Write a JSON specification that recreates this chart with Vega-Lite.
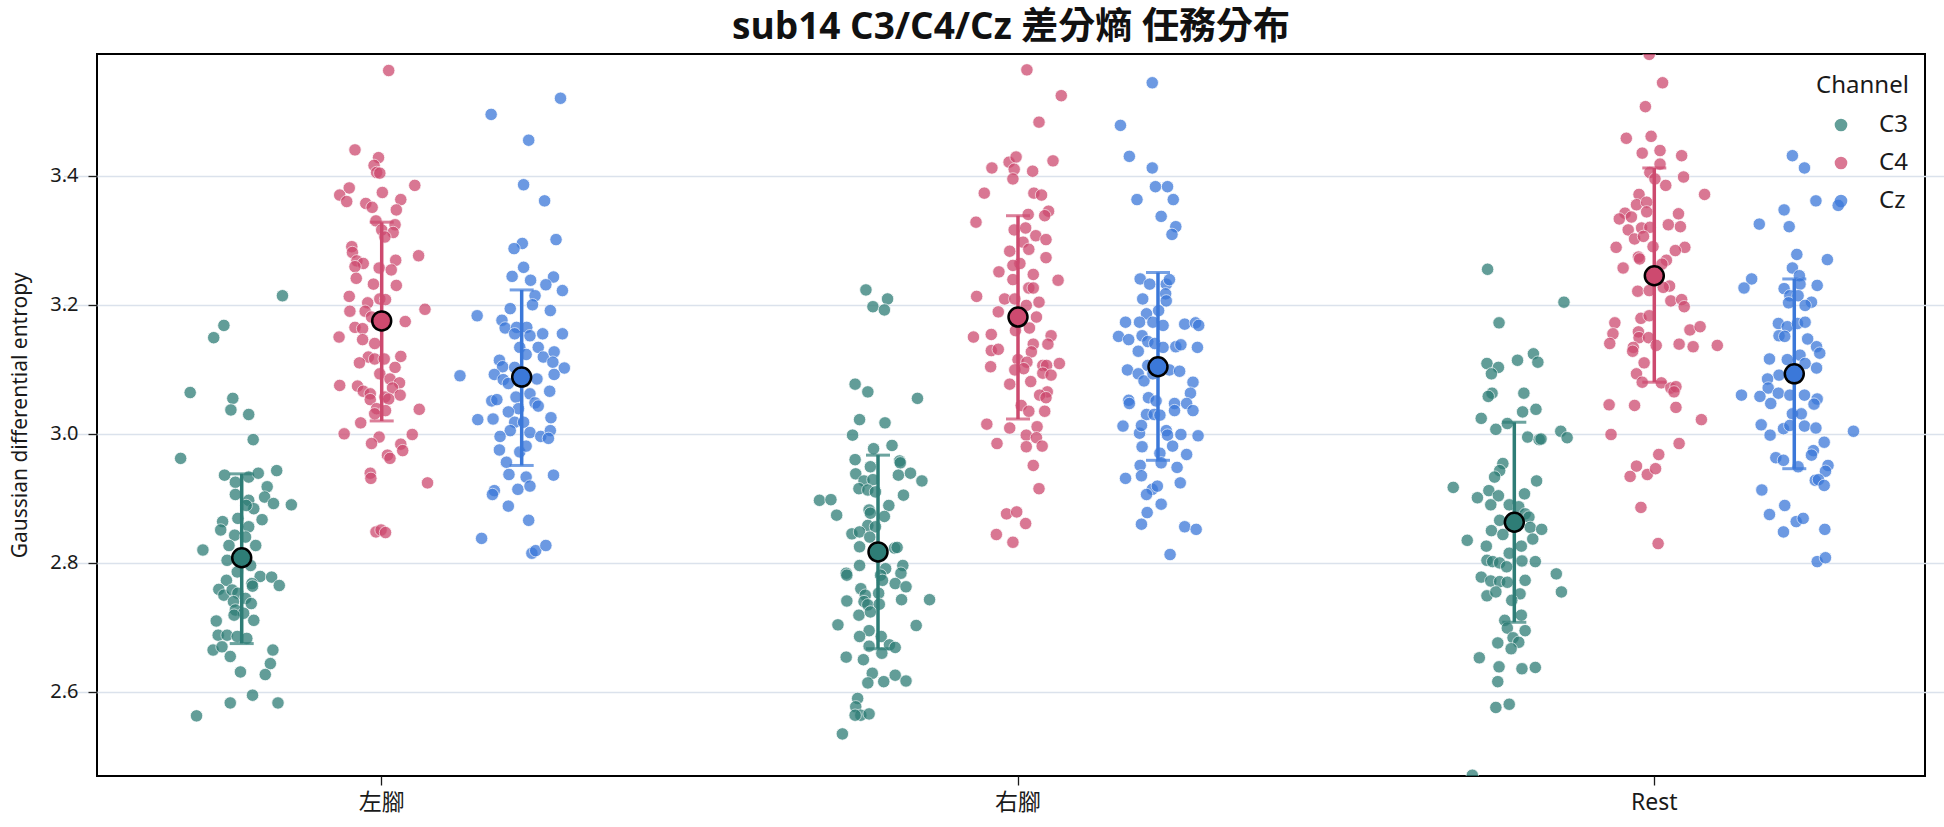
{
"$schema": "https://vega.github.io/schema/vega-lite/v6.json",
"width": 1828, "height": 722,
"autosize": {"type": "none"},
"padding": {"left": 97, "top": 54, "right": 19, "bottom": 51},
"background": "white",
"config": {
  "font": "Noto Sans, Noto Sans CJK TC",
  "view": {"stroke": "black", "strokeWidth": 2},
  "axis": {"labelColor": "#1a1a1a", "tickColor": "#1a1a1a", "tickWidth": 1.3, "titleColor": "#1a1a1a"}
},
"title": {"text": "sub14 C3/C4/Cz 差分熵 任務分布", "font": "Open Sans, Noto Sans CJK TC", "fontSize": 37, "fontWeight": "bold", "color": "#111", "anchor": "middle", "frame": "group", "offset": 7},
"datasets": {
"points": [
{"task":"左腳","channel":"C3","value":3.214,"jitter":0.064},
{"task":"左腳","channel":"C3","value":3.168,"jitter":-0.028},
{"task":"左腳","channel":"C3","value":3.149,"jitter":-0.044},
{"task":"左腳","channel":"C3","value":3.064,"jitter":-0.081},
{"task":"左腳","channel":"C3","value":3.055,"jitter":-0.014},
{"task":"左腳","channel":"C3","value":3.037,"jitter":-0.017},
{"task":"左腳","channel":"C3","value":3.030,"jitter":0.011},
{"task":"左腳","channel":"C3","value":2.991,"jitter":0.018},
{"task":"左腳","channel":"C3","value":2.962,"jitter":-0.096},
{"task":"左腳","channel":"C3","value":2.936,"jitter":-0.027},
{"task":"左腳","channel":"C3","value":2.925,"jitter":-0.010},
{"task":"左腳","channel":"C3","value":2.933,"jitter":0.011},
{"task":"左腳","channel":"C3","value":2.939,"jitter":0.026},
{"task":"左腳","channel":"C3","value":2.943,"jitter":0.055},
{"task":"左腳","channel":"C3","value":2.918,"jitter":0.040},
{"task":"左腳","channel":"C3","value":2.906,"jitter":-0.010},
{"task":"左腳","channel":"C3","value":2.902,"jitter":0.036},
{"task":"左腳","channel":"C3","value":2.892,"jitter":0.050},
{"task":"左腳","channel":"C3","value":2.890,"jitter":0.078},
{"task":"左腳","channel":"C3","value":2.897,"jitter":0.011},
{"task":"左腳","channel":"C3","value":2.884,"jitter":0.019},
{"task":"左腳","channel":"C3","value":2.889,"jitter":0.007},
{"task":"左腳","channel":"C3","value":2.867,"jitter":0.032},
{"task":"左腳","channel":"C3","value":2.864,"jitter":-0.030},
{"task":"左腳","channel":"C3","value":2.851,"jitter":-0.033},
{"task":"左腳","channel":"C3","value":2.869,"jitter":-0.006},
{"task":"左腳","channel":"C3","value":2.856,"jitter":0.011},
{"task":"左腳","channel":"C3","value":2.843,"jitter":-0.011},
{"task":"左腳","channel":"C3","value":2.840,"jitter":0.006},
{"task":"左腳","channel":"C3","value":2.820,"jitter":-0.061},
{"task":"左腳","channel":"C3","value":2.827,"jitter":-0.020},
{"task":"左腳","channel":"C3","value":2.827,"jitter":0.022},
{"task":"左腳","channel":"C3","value":2.804,"jitter":-0.023},
{"task":"左腳","channel":"C3","value":2.796,"jitter":0.014},
{"task":"左腳","channel":"C3","value":2.786,"jitter":-0.007},
{"task":"左腳","channel":"C3","value":2.779,"jitter":0.029},
{"task":"左腳","channel":"C3","value":2.778,"jitter":0.047},
{"task":"左腳","channel":"C3","value":2.765,"jitter":0.059},
{"task":"左腳","channel":"C3","value":2.773,"jitter":-0.024},
{"task":"左腳","channel":"C3","value":2.759,"jitter":-0.036},
{"task":"左腳","channel":"C3","value":2.750,"jitter":-0.028},
{"task":"左腳","channel":"C3","value":2.768,"jitter":0.016},
{"task":"左腳","channel":"C3","value":2.764,"jitter":0.017},
{"task":"左腳","channel":"C3","value":2.758,"jitter":-0.015},
{"task":"左腳","channel":"C3","value":2.753,"jitter":-0.006},
{"task":"左腳","channel":"C3","value":2.745,"jitter":0.006},
{"task":"左腳","channel":"C3","value":2.740,"jitter":-0.013},
{"task":"左腳","channel":"C3","value":2.737,"jitter":0.015},
{"task":"左腳","channel":"C3","value":2.727,"jitter":-0.010},
{"task":"左腳","channel":"C3","value":2.722,"jitter":0.003},
{"task":"左腳","channel":"C3","value":2.719,"jitter":-0.012},
{"task":"左腳","channel":"C3","value":2.711,"jitter":0.019},
{"task":"左腳","channel":"C3","value":2.710,"jitter":-0.040},
{"task":"左腳","channel":"C3","value":2.688,"jitter":-0.037},
{"task":"左腳","channel":"C3","value":2.688,"jitter":-0.023},
{"task":"左腳","channel":"C3","value":2.686,"jitter":-0.007},
{"task":"左腳","channel":"C3","value":2.683,"jitter":0.008},
{"task":"左腳","channel":"C3","value":2.665,"jitter":-0.045},
{"task":"左腳","channel":"C3","value":2.670,"jitter":-0.031},
{"task":"左腳","channel":"C3","value":2.655,"jitter":-0.018},
{"task":"左腳","channel":"C3","value":2.665,"jitter":0.049},
{"task":"左腳","channel":"C3","value":2.644,"jitter":0.045},
{"task":"左腳","channel":"C3","value":2.631,"jitter":-0.002},
{"task":"左腳","channel":"C3","value":2.627,"jitter":0.037},
{"task":"左腳","channel":"C3","value":2.583,"jitter":-0.018},
{"task":"左腳","channel":"C3","value":2.595,"jitter":0.017},
{"task":"左腳","channel":"C3","value":2.583,"jitter":0.057},
{"task":"左腳","channel":"C3","value":2.563,"jitter":-0.071},
{"task":"左腳","channel":"C4","value":3.563,"jitter":0.011},
{"task":"左腳","channel":"C4","value":3.440,"jitter":-0.042},
{"task":"左腳","channel":"C4","value":3.428,"jitter":-0.005},
{"task":"左腳","channel":"C4","value":3.416,"jitter":-0.012},
{"task":"左腳","channel":"C4","value":3.405,"jitter":-0.008},
{"task":"左腳","channel":"C4","value":3.404,"jitter":-0.003},
{"task":"左腳","channel":"C4","value":3.385,"jitter":0.052},
{"task":"左腳","channel":"C4","value":3.381,"jitter":-0.051},
{"task":"左腳","channel":"C4","value":3.370,"jitter":-0.066},
{"task":"左腳","channel":"C4","value":3.360,"jitter":-0.055},
{"task":"左腳","channel":"C4","value":3.357,"jitter":-0.025},
{"task":"左腳","channel":"C4","value":3.351,"jitter":-0.015},
{"task":"左腳","channel":"C4","value":3.374,"jitter":0.001},
{"task":"左腳","channel":"C4","value":3.363,"jitter":0.030},
{"task":"左腳","channel":"C4","value":3.347,"jitter":0.023},
{"task":"左腳","channel":"C4","value":3.330,"jitter":-0.009},
{"task":"左腳","channel":"C4","value":3.316,"jitter":0.000},
{"task":"左腳","channel":"C4","value":3.324,"jitter":0.021},
{"task":"左腳","channel":"C4","value":3.312,"jitter":0.018},
{"task":"左腳","channel":"C4","value":3.305,"jitter":0.005},
{"task":"左腳","channel":"C4","value":3.290,"jitter":-0.047},
{"task":"左腳","channel":"C4","value":3.281,"jitter":-0.046},
{"task":"左腳","channel":"C4","value":3.268,"jitter":-0.039},
{"task":"左腳","channel":"C4","value":3.264,"jitter":-0.029},
{"task":"左腳","channel":"C4","value":3.259,"jitter":-0.042},
{"task":"左腳","channel":"C4","value":3.257,"jitter":-0.004},
{"task":"左腳","channel":"C4","value":3.269,"jitter":0.022},
{"task":"左腳","channel":"C4","value":3.254,"jitter":0.015},
{"task":"左腳","channel":"C4","value":3.276,"jitter":0.058},
{"task":"左腳","channel":"C4","value":3.241,"jitter":-0.040},
{"task":"左腳","channel":"C4","value":3.232,"jitter":-0.013},
{"task":"左腳","channel":"C4","value":3.230,"jitter":0.023},
{"task":"左腳","channel":"C4","value":3.213,"jitter":-0.051},
{"task":"左腳","channel":"C4","value":3.203,"jitter":-0.022},
{"task":"左腳","channel":"C4","value":3.209,"jitter":-0.003},
{"task":"左腳","channel":"C4","value":3.208,"jitter":0.006},
{"task":"左腳","channel":"C4","value":3.190,"jitter":-0.050},
{"task":"左腳","channel":"C4","value":3.190,"jitter":-0.026},
{"task":"左腳","channel":"C4","value":3.181,"jitter":-0.016},
{"task":"左腳","channel":"C4","value":3.193,"jitter":0.068},
{"task":"左腳","channel":"C4","value":3.174,"jitter":0.037},
{"task":"左腳","channel":"C4","value":3.165,"jitter":-0.042},
{"task":"左腳","channel":"C4","value":3.163,"jitter":-0.030},
{"task":"左腳","channel":"C4","value":3.150,"jitter":-0.067},
{"task":"左腳","channel":"C4","value":3.146,"jitter":-0.030},
{"task":"左腳","channel":"C4","value":3.140,"jitter":-0.011},
{"task":"左腳","channel":"C4","value":3.119,"jitter":-0.021},
{"task":"左腳","channel":"C4","value":3.116,"jitter":-0.011},
{"task":"左腳","channel":"C4","value":3.116,"jitter":0.004},
{"task":"左腳","channel":"C4","value":3.120,"jitter":0.030},
{"task":"左腳","channel":"C4","value":3.110,"jitter":-0.035},
{"task":"左腳","channel":"C4","value":3.103,"jitter":0.021},
{"task":"左腳","channel":"C4","value":3.093,"jitter":-0.003},
{"task":"左腳","channel":"C4","value":3.085,"jitter":0.013},
{"task":"左腳","channel":"C4","value":3.079,"jitter":0.028},
{"task":"左腳","channel":"C4","value":3.075,"jitter":-0.066},
{"task":"左腳","channel":"C4","value":3.074,"jitter":-0.038},
{"task":"左腳","channel":"C4","value":3.066,"jitter":-0.029},
{"task":"左腳","channel":"C4","value":3.062,"jitter":-0.018},
{"task":"左腳","channel":"C4","value":3.071,"jitter":0.017},
{"task":"左腳","channel":"C4","value":3.057,"jitter":0.005},
{"task":"左腳","channel":"C4","value":3.060,"jitter":0.029},
{"task":"左腳","channel":"C4","value":3.053,"jitter":-0.018},
{"task":"左腳","channel":"C4","value":3.054,"jitter":0.011},
{"task":"左腳","channel":"C4","value":3.039,"jitter":-0.008},
{"task":"左腳","channel":"C4","value":3.036,"jitter":0.006},
{"task":"左腳","channel":"C4","value":3.031,"jitter":-0.011},
{"task":"左腳","channel":"C4","value":3.038,"jitter":0.059},
{"task":"左腳","channel":"C4","value":3.017,"jitter":-0.033},
{"task":"左腳","channel":"C4","value":3.000,"jitter":-0.059},
{"task":"左腳","channel":"C4","value":2.995,"jitter":-0.004},
{"task":"左腳","channel":"C4","value":2.985,"jitter":-0.016},
{"task":"左腳","channel":"C4","value":2.999,"jitter":0.048},
{"task":"左腳","channel":"C4","value":2.984,"jitter":0.030},
{"task":"左腳","channel":"C4","value":2.974,"jitter":0.033},
{"task":"左腳","channel":"C4","value":2.967,"jitter":0.009},
{"task":"左腳","channel":"C4","value":2.962,"jitter":0.013},
{"task":"左腳","channel":"C4","value":2.939,"jitter":-0.018},
{"task":"左腳","channel":"C4","value":2.931,"jitter":-0.017},
{"task":"左腳","channel":"C4","value":2.924,"jitter":0.072},
{"task":"左腳","channel":"C4","value":2.848,"jitter":-0.009},
{"task":"左腳","channel":"C4","value":2.851,"jitter":-0.001},
{"task":"左腳","channel":"C4","value":2.847,"jitter":0.006},
{"task":"左腳","channel":"Cz","value":3.520,"jitter":0.061},
{"task":"左腳","channel":"Cz","value":3.495,"jitter":-0.048},
{"task":"左腳","channel":"Cz","value":3.455,"jitter":0.011},
{"task":"左腳","channel":"Cz","value":3.386,"jitter":0.003},
{"task":"左腳","channel":"Cz","value":3.361,"jitter":0.036},
{"task":"左腳","channel":"Cz","value":3.301,"jitter":0.054},
{"task":"左腳","channel":"Cz","value":3.295,"jitter":0.001},
{"task":"左腳","channel":"Cz","value":3.287,"jitter":-0.012},
{"task":"左腳","channel":"Cz","value":3.258,"jitter":0.003},
{"task":"左腳","channel":"Cz","value":3.244,"jitter":-0.015},
{"task":"左腳","channel":"Cz","value":3.238,"jitter":0.014},
{"task":"左腳","channel":"Cz","value":3.243,"jitter":0.050},
{"task":"左腳","channel":"Cz","value":3.231,"jitter":0.038},
{"task":"左腳","channel":"Cz","value":3.222,"jitter":0.064},
{"task":"左腳","channel":"Cz","value":3.214,"jitter":0.021},
{"task":"左腳","channel":"Cz","value":3.200,"jitter":0.017},
{"task":"左腳","channel":"Cz","value":3.194,"jitter":-0.018},
{"task":"左腳","channel":"Cz","value":3.191,"jitter":0.045},
{"task":"左腳","channel":"Cz","value":3.183,"jitter":-0.070},
{"task":"左腳","channel":"Cz","value":3.176,"jitter":-0.031},
{"task":"左腳","channel":"Cz","value":3.164,"jitter":-0.026},
{"task":"左腳","channel":"Cz","value":3.165,"jitter":-0.008},
{"task":"左腳","channel":"Cz","value":3.165,"jitter":0.008},
{"task":"左腳","channel":"Cz","value":3.155,"jitter":-0.011},
{"task":"左腳","channel":"Cz","value":3.152,"jitter":0.013},
{"task":"左腳","channel":"Cz","value":3.155,"jitter":0.033},
{"task":"左腳","channel":"Cz","value":3.155,"jitter":0.064},
{"task":"左腳","channel":"Cz","value":3.134,"jitter":-0.003},
{"task":"左腳","channel":"Cz","value":3.134,"jitter":0.026},
{"task":"左腳","channel":"Cz","value":3.123,"jitter":0.007},
{"task":"左腳","channel":"Cz","value":3.119,"jitter":0.034},
{"task":"左腳","channel":"Cz","value":3.127,"jitter":0.051},
{"task":"左腳","channel":"Cz","value":3.111,"jitter":0.049},
{"task":"左腳","channel":"Cz","value":3.114,"jitter":-0.035},
{"task":"左腳","channel":"Cz","value":3.104,"jitter":-0.030},
{"task":"左腳","channel":"Cz","value":3.102,"jitter":0.067},
{"task":"左腳","channel":"Cz","value":3.103,"jitter":-0.011},
{"task":"左腳","channel":"Cz","value":3.090,"jitter":-0.097},
{"task":"左腳","channel":"Cz","value":3.092,"jitter":-0.043},
{"task":"左腳","channel":"Cz","value":3.084,"jitter":-0.029},
{"task":"左腳","channel":"Cz","value":3.078,"jitter":-0.021},
{"task":"左腳","channel":"Cz","value":3.085,"jitter":0.024},
{"task":"左腳","channel":"Cz","value":3.092,"jitter":0.051},
{"task":"左腳","channel":"Cz","value":3.066,"jitter":0.044},
{"task":"左腳","channel":"Cz","value":3.057,"jitter":-0.009},
{"task":"左腳","channel":"Cz","value":3.062,"jitter":0.013},
{"task":"左腳","channel":"Cz","value":3.051,"jitter":-0.047},
{"task":"左腳","channel":"Cz","value":3.053,"jitter":-0.039},
{"task":"左腳","channel":"Cz","value":3.048,"jitter":0.021},
{"task":"左腳","channel":"Cz","value":3.043,"jitter":0.026},
{"task":"左腳","channel":"Cz","value":3.039,"jitter":-0.005},
{"task":"左腳","channel":"Cz","value":3.034,"jitter":-0.021},
{"task":"左腳","channel":"Cz","value":3.022,"jitter":-0.069},
{"task":"左腳","channel":"Cz","value":3.023,"jitter":-0.045},
{"task":"左腳","channel":"Cz","value":3.025,"jitter":0.046},
{"task":"左腳","channel":"Cz","value":3.018,"jitter":-0.011},
{"task":"左腳","channel":"Cz","value":3.018,"jitter":0.003},
{"task":"左腳","channel":"Cz","value":3.005,"jitter":-0.018},
{"task":"左腳","channel":"Cz","value":2.996,"jitter":-0.034},
{"task":"左腳","channel":"Cz","value":3.002,"jitter":0.013},
{"task":"左腳","channel":"Cz","value":2.996,"jitter":0.030},
{"task":"左腳","channel":"Cz","value":3.005,"jitter":0.045},
{"task":"左腳","channel":"Cz","value":2.993,"jitter":0.042},
{"task":"左腳","channel":"Cz","value":2.975,"jitter":-0.035},
{"task":"左腳","channel":"Cz","value":2.972,"jitter":-0.003},
{"task":"左腳","channel":"Cz","value":2.981,"jitter":0.007},
{"task":"左腳","channel":"Cz","value":2.956,"jitter":-0.024},
{"task":"左腳","channel":"Cz","value":2.937,"jitter":-0.020},
{"task":"左腳","channel":"Cz","value":2.933,"jitter":0.007},
{"task":"左腳","channel":"Cz","value":2.936,"jitter":0.050},
{"task":"左腳","channel":"Cz","value":2.912,"jitter":-0.043},
{"task":"左腳","channel":"Cz","value":2.906,"jitter":-0.046},
{"task":"左腳","channel":"Cz","value":2.914,"jitter":-0.006},
{"task":"左腳","channel":"Cz","value":2.919,"jitter":0.013},
{"task":"左腳","channel":"Cz","value":2.888,"jitter":-0.021},
{"task":"左腳","channel":"Cz","value":2.866,"jitter":0.011},
{"task":"左腳","channel":"Cz","value":2.838,"jitter":-0.063},
{"task":"左腳","channel":"Cz","value":2.815,"jitter":0.016},
{"task":"左腳","channel":"Cz","value":2.819,"jitter":0.022},
{"task":"左腳","channel":"Cz","value":2.827,"jitter":0.038},
{"task":"右腳","channel":"C3","value":3.223,"jitter":-0.019},
{"task":"右腳","channel":"C3","value":3.209,"jitter":0.015},
{"task":"右腳","channel":"C3","value":3.197,"jitter":-0.008},
{"task":"右腳","channel":"C3","value":3.192,"jitter":0.010},
{"task":"右腳","channel":"C3","value":3.077,"jitter":-0.036},
{"task":"右腳","channel":"C3","value":3.065,"jitter":-0.016},
{"task":"右腳","channel":"C3","value":3.055,"jitter":0.062},
{"task":"右腳","channel":"C3","value":3.022,"jitter":-0.029},
{"task":"右腳","channel":"C3","value":3.017,"jitter":0.011},
{"task":"右腳","channel":"C3","value":2.998,"jitter":-0.040},
{"task":"右腳","channel":"C3","value":2.977,"jitter":-0.007},
{"task":"右腳","channel":"C3","value":2.982,"jitter":0.022},
{"task":"右腳","channel":"C3","value":2.960,"jitter":-0.036},
{"task":"右腳","channel":"C3","value":2.949,"jitter":-0.012},
{"task":"右腳","channel":"C3","value":2.958,"jitter":0.034},
{"task":"右腳","channel":"C3","value":2.955,"jitter":0.035},
{"task":"右腳","channel":"C3","value":2.938,"jitter":-0.035},
{"task":"右腳","channel":"C3","value":2.927,"jitter":-0.022},
{"task":"右腳","channel":"C3","value":2.929,"jitter":-0.008},
{"task":"右腳","channel":"C3","value":2.936,"jitter":0.032},
{"task":"右腳","channel":"C3","value":2.939,"jitter":0.051},
{"task":"右腳","channel":"C3","value":2.927,"jitter":0.069},
{"task":"右腳","channel":"C3","value":2.915,"jitter":-0.030},
{"task":"右腳","channel":"C3","value":2.913,"jitter":-0.016},
{"task":"右腳","channel":"C3","value":2.910,"jitter":-0.004},
{"task":"右腳","channel":"C3","value":2.905,"jitter":0.040},
{"task":"右腳","channel":"C3","value":2.897,"jitter":-0.092},
{"task":"右腳","channel":"C3","value":2.898,"jitter":-0.074},
{"task":"右腳","channel":"C3","value":2.874,"jitter":-0.065},
{"task":"右腳","channel":"C3","value":2.889,"jitter":0.017},
{"task":"右腳","channel":"C3","value":2.882,"jitter":-0.014},
{"task":"右腳","channel":"C3","value":2.877,"jitter":-0.012},
{"task":"右腳","channel":"C3","value":2.872,"jitter":0.010},
{"task":"右腳","channel":"C3","value":2.858,"jitter":-0.016},
{"task":"右腳","channel":"C3","value":2.856,"jitter":-0.004},
{"task":"右腳","channel":"C3","value":2.845,"jitter":-0.041},
{"task":"右腳","channel":"C3","value":2.848,"jitter":-0.029},
{"task":"右腳","channel":"C3","value":2.840,"jitter":-0.013},
{"task":"右腳","channel":"C3","value":2.825,"jitter":-0.029},
{"task":"右腳","channel":"C3","value":2.823,"jitter":0.026},
{"task":"右腳","channel":"C3","value":2.824,"jitter":0.030},
{"task":"右腳","channel":"C3","value":2.796,"jitter":-0.029},
{"task":"右腳","channel":"C3","value":2.791,"jitter":0.012},
{"task":"右腳","channel":"C3","value":2.796,"jitter":0.039},
{"task":"右腳","channel":"C3","value":2.784,"jitter":-0.050},
{"task":"右腳","channel":"C3","value":2.781,"jitter":-0.049},
{"task":"右腳","channel":"C3","value":2.781,"jitter":0.004},
{"task":"右腳","channel":"C3","value":2.773,"jitter":0.007},
{"task":"右腳","channel":"C3","value":2.784,"jitter":0.036},
{"task":"右腳","channel":"C3","value":2.768,"jitter":0.027},
{"task":"右腳","channel":"C3","value":2.763,"jitter":0.044},
{"task":"右腳","channel":"C3","value":2.760,"jitter":-0.027},
{"task":"右腳","channel":"C3","value":2.750,"jitter":-0.020},
{"task":"右腳","channel":"C3","value":2.753,"jitter":0.001},
{"task":"右腳","channel":"C3","value":2.741,"jitter":-0.049},
{"task":"右腳","channel":"C3","value":2.743,"jitter":0.037},
{"task":"右腳","channel":"C3","value":2.743,"jitter":0.081},
{"task":"右腳","channel":"C3","value":2.740,"jitter":-0.022},
{"task":"右腳","channel":"C3","value":2.735,"jitter":-0.016},
{"task":"右腳","channel":"C3","value":2.736,"jitter":0.002},
{"task":"右腳","channel":"C3","value":2.719,"jitter":-0.030},
{"task":"右腳","channel":"C3","value":2.724,"jitter":-0.012},
{"task":"右腳","channel":"C3","value":2.704,"jitter":-0.063},
{"task":"右腳","channel":"C3","value":2.703,"jitter":0.060},
{"task":"右腳","channel":"C3","value":2.695,"jitter":-0.014},
{"task":"右腳","channel":"C3","value":2.686,"jitter":-0.029},
{"task":"右腳","channel":"C3","value":2.686,"jitter":0.005},
{"task":"右腳","channel":"C3","value":2.673,"jitter":0.018},
{"task":"右腳","channel":"C3","value":2.669,"jitter":0.027},
{"task":"右腳","channel":"C3","value":2.671,"jitter":-0.014},
{"task":"右腳","channel":"C3","value":2.660,"jitter":0.006},
{"task":"右腳","channel":"C3","value":2.654,"jitter":-0.050},
{"task":"右腳","channel":"C3","value":2.650,"jitter":-0.023},
{"task":"右腳","channel":"C3","value":2.629,"jitter":-0.009},
{"task":"右腳","channel":"C3","value":2.614,"jitter":-0.016},
{"task":"右腳","channel":"C3","value":2.616,"jitter":0.009},
{"task":"右腳","channel":"C3","value":2.626,"jitter":0.027},
{"task":"右腳","channel":"C3","value":2.617,"jitter":0.044},
{"task":"右腳","channel":"C3","value":2.590,"jitter":-0.032},
{"task":"右腳","channel":"C3","value":2.577,"jitter":-0.035},
{"task":"右腳","channel":"C3","value":2.564,"jitter":-0.027},
{"task":"右腳","channel":"C3","value":2.566,"jitter":-0.014},
{"task":"右腳","channel":"C3","value":2.564,"jitter":-0.036},
{"task":"右腳","channel":"C3","value":2.535,"jitter":-0.056},
{"task":"右腳","channel":"C4","value":3.564,"jitter":0.014},
{"task":"右腳","channel":"C4","value":3.524,"jitter":0.068},
{"task":"右腳","channel":"C4","value":3.483,"jitter":0.033},
{"task":"右腳","channel":"C4","value":3.421,"jitter":-0.014},
{"task":"右腳","channel":"C4","value":3.429,"jitter":-0.003},
{"task":"右腳","channel":"C4","value":3.410,"jitter":-0.006},
{"task":"右腳","channel":"C4","value":3.395,"jitter":-0.008},
{"task":"右腳","channel":"C4","value":3.412,"jitter":-0.041},
{"task":"右腳","channel":"C4","value":3.407,"jitter":0.023},
{"task":"右腳","channel":"C4","value":3.423,"jitter":0.055},
{"task":"右腳","channel":"C4","value":3.373,"jitter":-0.053},
{"task":"右腳","channel":"C4","value":3.373,"jitter":0.025},
{"task":"右腳","channel":"C4","value":3.370,"jitter":0.037},
{"task":"右腳","channel":"C4","value":3.328,"jitter":-0.066},
{"task":"右腳","channel":"C4","value":3.340,"jitter":0.016},
{"task":"右腳","channel":"C4","value":3.345,"jitter":0.048},
{"task":"右腳","channel":"C4","value":3.338,"jitter":0.042},
{"task":"右腳","channel":"C4","value":3.316,"jitter":-0.006},
{"task":"右腳","channel":"C4","value":3.319,"jitter":0.012},
{"task":"右腳","channel":"C4","value":3.307,"jitter":0.028},
{"task":"右腳","channel":"C4","value":3.301,"jitter":0.044},
{"task":"右腳","channel":"C4","value":3.297,"jitter":0.008},
{"task":"右腳","channel":"C4","value":3.286,"jitter":0.017},
{"task":"右腳","channel":"C4","value":3.283,"jitter":-0.013},
{"task":"右腳","channel":"C4","value":3.273,"jitter":0.044},
{"task":"右腳","channel":"C4","value":3.264,"jitter":0.003},
{"task":"右腳","channel":"C4","value":3.261,"jitter":-0.008},
{"task":"右腳","channel":"C4","value":3.251,"jitter":-0.030},
{"task":"右腳","channel":"C4","value":3.247,"jitter":0.024},
{"task":"右腳","channel":"C4","value":3.239,"jitter":-0.008},
{"task":"右腳","channel":"C4","value":3.238,"jitter":0.063},
{"task":"右腳","channel":"C4","value":3.226,"jitter":0.017},
{"task":"右腳","channel":"C4","value":3.226,"jitter":0.024},
{"task":"右腳","channel":"C4","value":3.213,"jitter":-0.065},
{"task":"右腳","channel":"C4","value":3.209,"jitter":-0.021},
{"task":"右腳","channel":"C4","value":3.209,"jitter":-0.005},
{"task":"右腳","channel":"C4","value":3.199,"jitter":0.013},
{"task":"右腳","channel":"C4","value":3.204,"jitter":0.033},
{"task":"右腳","channel":"C4","value":3.189,"jitter":-0.031},
{"task":"右腳","channel":"C4","value":3.181,"jitter":0.029},
{"task":"右腳","channel":"C4","value":3.164,"jitter":0.018},
{"task":"右腳","channel":"C4","value":3.160,"jitter":-0.004},
{"task":"右腳","channel":"C4","value":3.154,"jitter":-0.042},
{"task":"右腳","channel":"C4","value":3.150,"jitter":-0.070},
{"task":"右腳","channel":"C4","value":3.152,"jitter":0.052},
{"task":"右腳","channel":"C4","value":3.139,"jitter":0.047},
{"task":"右腳","channel":"C4","value":3.139,"jitter":0.024},
{"task":"右腳","channel":"C4","value":3.127,"jitter":0.021},
{"task":"右腳","channel":"C4","value":3.129,"jitter":-0.042},
{"task":"右腳","channel":"C4","value":3.131,"jitter":-0.031},
{"task":"右腳","channel":"C4","value":3.104,"jitter":-0.043},
{"task":"右腳","channel":"C4","value":3.115,"jitter":0.000},
{"task":"右腳","channel":"C4","value":3.111,"jitter":0.014},
{"task":"右腳","channel":"C4","value":3.099,"jitter":-0.005},
{"task":"右腳","channel":"C4","value":3.101,"jitter":0.009},
{"task":"右腳","channel":"C4","value":3.106,"jitter":0.039},
{"task":"右腳","channel":"C4","value":3.106,"jitter":0.045},
{"task":"右腳","channel":"C4","value":3.094,"jitter":0.039},
{"task":"右腳","channel":"C4","value":3.091,"jitter":0.052},
{"task":"右腳","channel":"C4","value":3.109,"jitter":0.065},
{"task":"右腳","channel":"C4","value":3.077,"jitter":-0.013},
{"task":"右腳","channel":"C4","value":3.081,"jitter":0.020},
{"task":"右腳","channel":"C4","value":3.065,"jitter":0.046},
{"task":"右腳","channel":"C4","value":3.060,"jitter":0.034},
{"task":"右腳","channel":"C4","value":3.056,"jitter":0.044},
{"task":"右腳","channel":"C4","value":3.044,"jitter":0.005},
{"task":"右腳","channel":"C4","value":3.035,"jitter":0.017},
{"task":"右腳","channel":"C4","value":3.035,"jitter":0.042},
{"task":"右腳","channel":"C4","value":3.015,"jitter":-0.049},
{"task":"右腳","channel":"C4","value":3.009,"jitter":-0.013},
{"task":"右腳","channel":"C4","value":3.011,"jitter":0.030},
{"task":"右腳","channel":"C4","value":2.998,"jitter":0.013},
{"task":"右腳","channel":"C4","value":2.994,"jitter":0.029},
{"task":"右腳","channel":"C4","value":2.985,"jitter":-0.033},
{"task":"右腳","channel":"C4","value":2.980,"jitter":0.013},
{"task":"右腳","channel":"C4","value":2.981,"jitter":0.038},
{"task":"右腳","channel":"C4","value":2.951,"jitter":0.024},
{"task":"右腳","channel":"C4","value":2.915,"jitter":0.033},
{"task":"右腳","channel":"C4","value":2.876,"jitter":-0.018},
{"task":"右腳","channel":"C4","value":2.879,"jitter":-0.002},
{"task":"右腳","channel":"C4","value":2.861,"jitter":0.012},
{"task":"右腳","channel":"C4","value":2.844,"jitter":-0.034},
{"task":"右腳","channel":"C4","value":2.832,"jitter":-0.008},
{"task":"右腳","channel":"Cz","value":3.544,"jitter":-0.009},
{"task":"右腳","channel":"Cz","value":3.478,"jitter":-0.059},
{"task":"右腳","channel":"Cz","value":3.430,"jitter":-0.045},
{"task":"右腳","channel":"Cz","value":3.412,"jitter":-0.009},
{"task":"右腳","channel":"Cz","value":3.383,"jitter":-0.004},
{"task":"右腳","channel":"Cz","value":3.383,"jitter":0.015},
{"task":"右腳","channel":"Cz","value":3.363,"jitter":-0.033},
{"task":"右腳","channel":"Cz","value":3.363,"jitter":0.024},
{"task":"右腳","channel":"Cz","value":3.337,"jitter":0.005},
{"task":"右腳","channel":"Cz","value":3.321,"jitter":0.028},
{"task":"右腳","channel":"Cz","value":3.309,"jitter":0.022},
{"task":"右腳","channel":"Cz","value":3.240,"jitter":-0.028},
{"task":"右腳","channel":"Cz","value":3.232,"jitter":-0.013},
{"task":"右腳","channel":"Cz","value":3.232,"jitter":0.013},
{"task":"右腳","channel":"Cz","value":3.239,"jitter":0.018},
{"task":"右腳","channel":"Cz","value":3.217,"jitter":0.012},
{"task":"右腳","channel":"Cz","value":3.209,"jitter":-0.024},
{"task":"右腳","channel":"Cz","value":3.206,"jitter":0.013},
{"task":"右腳","channel":"Cz","value":3.191,"jitter":0.001},
{"task":"右腳","channel":"Cz","value":3.186,"jitter":-0.018},
{"task":"右腳","channel":"Cz","value":3.173,"jitter":-0.051},
{"task":"右腳","channel":"Cz","value":3.173,"jitter":-0.029},
{"task":"右腳","channel":"Cz","value":3.173,"jitter":-0.008},
{"task":"右腳","channel":"Cz","value":3.168,"jitter":0.008},
{"task":"右腳","channel":"Cz","value":3.170,"jitter":0.042},
{"task":"右腳","channel":"Cz","value":3.172,"jitter":0.059},
{"task":"右腳","channel":"Cz","value":3.168,"jitter":0.064},
{"task":"右腳","channel":"Cz","value":3.151,"jitter":-0.062},
{"task":"右腳","channel":"Cz","value":3.146,"jitter":-0.046},
{"task":"右腳","channel":"Cz","value":3.152,"jitter":-0.025},
{"task":"右腳","channel":"Cz","value":3.143,"jitter":-0.016},
{"task":"右腳","channel":"Cz","value":3.140,"jitter":-0.005},
{"task":"右腳","channel":"Cz","value":3.134,"jitter":0.008},
{"task":"右腳","channel":"Cz","value":3.135,"jitter":0.028},
{"task":"右腳","channel":"Cz","value":3.138,"jitter":0.036},
{"task":"右腳","channel":"Cz","value":3.134,"jitter":0.062},
{"task":"右腳","channel":"Cz","value":3.128,"jitter":-0.031},
{"task":"右腳","channel":"Cz","value":3.099,"jitter":-0.048},
{"task":"右腳","channel":"Cz","value":3.093,"jitter":-0.031},
{"task":"右腳","channel":"Cz","value":3.082,"jitter":-0.022},
{"task":"右腳","channel":"Cz","value":3.106,"jitter":-0.016},
{"task":"右腳","channel":"Cz","value":3.093,"jitter":-0.008},
{"task":"右腳","channel":"Cz","value":3.099,"jitter":0.018},
{"task":"右腳","channel":"Cz","value":3.097,"jitter":0.034},
{"task":"右腳","channel":"Cz","value":3.080,"jitter":0.055},
{"task":"右腳","channel":"Cz","value":3.063,"jitter":0.051},
{"task":"右腳","channel":"Cz","value":3.052,"jitter":-0.046},
{"task":"右腳","channel":"Cz","value":3.047,"jitter":-0.045},
{"task":"右腳","channel":"Cz","value":3.056,"jitter":-0.015},
{"task":"右腳","channel":"Cz","value":3.051,"jitter":-0.003},
{"task":"右腳","channel":"Cz","value":3.047,"jitter":0.026},
{"task":"右腳","channel":"Cz","value":3.036,"jitter":0.026},
{"task":"右腳","channel":"Cz","value":3.047,"jitter":0.045},
{"task":"右腳","channel":"Cz","value":3.036,"jitter":0.055},
{"task":"右腳","channel":"Cz","value":3.030,"jitter":-0.018},
{"task":"右腳","channel":"Cz","value":3.030,"jitter":-0.006},
{"task":"右腳","channel":"Cz","value":3.029,"jitter":0.003},
{"task":"右腳","channel":"Cz","value":3.012,"jitter":-0.055},
{"task":"右腳","channel":"Cz","value":3.001,"jitter":-0.029},
{"task":"右腳","channel":"Cz","value":3.013,"jitter":-0.026},
{"task":"右腳","channel":"Cz","value":3.005,"jitter":0.013},
{"task":"右腳","channel":"Cz","value":2.998,"jitter":0.015},
{"task":"右腳","channel":"Cz","value":2.999,"jitter":0.036},
{"task":"右腳","channel":"Cz","value":2.997,"jitter":0.063},
{"task":"右腳","channel":"Cz","value":2.980,"jitter":-0.025},
{"task":"右腳","channel":"Cz","value":2.981,"jitter":0.023},
{"task":"右腳","channel":"Cz","value":2.968,"jitter":0.045},
{"task":"右腳","channel":"Cz","value":2.970,"jitter":0.003},
{"task":"右腳","channel":"Cz","value":2.955,"jitter":0.005},
{"task":"右腳","channel":"Cz","value":2.951,"jitter":-0.028},
{"task":"右腳","channel":"Cz","value":2.935,"jitter":-0.026},
{"task":"右腳","channel":"Cz","value":2.931,"jitter":-0.051},
{"task":"右腳","channel":"Cz","value":2.948,"jitter":0.030},
{"task":"右腳","channel":"Cz","value":2.924,"jitter":0.035},
{"task":"右腳","channel":"Cz","value":2.914,"jitter":-0.009},
{"task":"右腳","channel":"Cz","value":2.919,"jitter":-0.001},
{"task":"右腳","channel":"Cz","value":2.906,"jitter":-0.018},
{"task":"右腳","channel":"Cz","value":2.891,"jitter":0.005},
{"task":"右腳","channel":"Cz","value":2.878,"jitter":-0.017},
{"task":"右腳","channel":"Cz","value":2.860,"jitter":-0.026},
{"task":"右腳","channel":"Cz","value":2.856,"jitter":0.042},
{"task":"右腳","channel":"Cz","value":2.852,"jitter":0.060},
{"task":"右腳","channel":"Cz","value":2.813,"jitter":0.019},
{"task":"Rest","channel":"C3","value":3.255,"jitter":-0.042},
{"task":"Rest","channel":"C3","value":3.204,"jitter":0.078},
{"task":"Rest","channel":"C3","value":3.172,"jitter":-0.024},
{"task":"Rest","channel":"C3","value":3.109,"jitter":-0.043},
{"task":"Rest","channel":"C3","value":3.103,"jitter":-0.025},
{"task":"Rest","channel":"C3","value":3.093,"jitter":-0.036},
{"task":"Rest","channel":"C3","value":3.114,"jitter":0.005},
{"task":"Rest","channel":"C3","value":3.124,"jitter":0.030},
{"task":"Rest","channel":"C3","value":3.111,"jitter":0.037},
{"task":"Rest","channel":"C3","value":3.063,"jitter":-0.035},
{"task":"Rest","channel":"C3","value":3.058,"jitter":-0.041},
{"task":"Rest","channel":"C3","value":3.063,"jitter":0.015},
{"task":"Rest","channel":"C3","value":3.038,"jitter":0.034},
{"task":"Rest","channel":"C3","value":3.034,"jitter":0.013},
{"task":"Rest","channel":"C3","value":3.024,"jitter":-0.052},
{"task":"Rest","channel":"C3","value":3.016,"jitter":-0.011},
{"task":"Rest","channel":"C3","value":3.007,"jitter":-0.029},
{"task":"Rest","channel":"C3","value":2.995,"jitter":0.021},
{"task":"Rest","channel":"C3","value":2.991,"jitter":0.039},
{"task":"Rest","channel":"C3","value":2.992,"jitter":0.042},
{"task":"Rest","channel":"C3","value":3.004,"jitter":0.073},
{"task":"Rest","channel":"C3","value":2.994,"jitter":0.083},
{"task":"Rest","channel":"C3","value":2.954,"jitter":-0.018},
{"task":"Rest","channel":"C3","value":2.943,"jitter":-0.023},
{"task":"Rest","channel":"C3","value":2.933,"jitter":-0.031},
{"task":"Rest","channel":"C3","value":2.927,"jitter":0.035},
{"task":"Rest","channel":"C3","value":2.917,"jitter":-0.096},
{"task":"Rest","channel":"C3","value":2.901,"jitter":-0.058},
{"task":"Rest","channel":"C3","value":2.912,"jitter":-0.040},
{"task":"Rest","channel":"C3","value":2.904,"jitter":-0.025},
{"task":"Rest","channel":"C3","value":2.890,"jitter":-0.037},
{"task":"Rest","channel":"C3","value":2.890,"jitter":-0.008},
{"task":"Rest","channel":"C3","value":2.907,"jitter":0.016},
{"task":"Rest","channel":"C3","value":2.887,"jitter":0.007},
{"task":"Rest","channel":"C3","value":2.876,"jitter":0.017},
{"task":"Rest","channel":"C3","value":2.866,"jitter":-0.023},
{"task":"Rest","channel":"C3","value":2.871,"jitter":0.023},
{"task":"Rest","channel":"C3","value":2.855,"jitter":0.025},
{"task":"Rest","channel":"C3","value":2.852,"jitter":0.043},
{"task":"Rest","channel":"C3","value":2.850,"jitter":-0.036},
{"task":"Rest","channel":"C3","value":2.844,"jitter":-0.018},
{"task":"Rest","channel":"C3","value":2.837,"jitter":0.029},
{"task":"Rest","channel":"C3","value":2.835,"jitter":-0.074},
{"task":"Rest","channel":"C3","value":2.826,"jitter":-0.044},
{"task":"Rest","channel":"C3","value":2.826,"jitter":0.011},
{"task":"Rest","channel":"C3","value":2.815,"jitter":-0.008},
{"task":"Rest","channel":"C3","value":2.804,"jitter":-0.043},
{"task":"Rest","channel":"C3","value":2.802,"jitter":-0.034},
{"task":"Rest","channel":"C3","value":2.800,"jitter":-0.023},
{"task":"Rest","channel":"C3","value":2.803,"jitter":0.012},
{"task":"Rest","channel":"C3","value":2.802,"jitter":0.033},
{"task":"Rest","channel":"C3","value":2.794,"jitter":-0.012},
{"task":"Rest","channel":"C3","value":2.778,"jitter":-0.052},
{"task":"Rest","channel":"C3","value":2.772,"jitter":-0.037},
{"task":"Rest","channel":"C3","value":2.771,"jitter":-0.023},
{"task":"Rest","channel":"C3","value":2.770,"jitter":-0.011},
{"task":"Rest","channel":"C3","value":2.773,"jitter":0.017},
{"task":"Rest","channel":"C3","value":2.783,"jitter":0.066},
{"task":"Rest","channel":"C3","value":2.749,"jitter":-0.043},
{"task":"Rest","channel":"C3","value":2.755,"jitter":-0.029},
{"task":"Rest","channel":"C3","value":2.752,"jitter":0.009},
{"task":"Rest","channel":"C3","value":2.755,"jitter":0.074},
{"task":"Rest","channel":"C3","value":2.742,"jitter":-0.004},
{"task":"Rest","channel":"C3","value":2.711,"jitter":-0.015},
{"task":"Rest","channel":"C3","value":2.719,"jitter":0.011},
{"task":"Rest","channel":"C3","value":2.699,"jitter":-0.011},
{"task":"Rest","channel":"C3","value":2.695,"jitter":0.017},
{"task":"Rest","channel":"C3","value":2.684,"jitter":-0.002},
{"task":"Rest","channel":"C3","value":2.677,"jitter":0.007},
{"task":"Rest","channel":"C3","value":2.676,"jitter":-0.026},
{"task":"Rest","channel":"C3","value":2.667,"jitter":-0.005},
{"task":"Rest","channel":"C3","value":2.653,"jitter":-0.055},
{"task":"Rest","channel":"C3","value":2.639,"jitter":-0.024},
{"task":"Rest","channel":"C3","value":2.636,"jitter":0.012},
{"task":"Rest","channel":"C3","value":2.638,"jitter":0.033},
{"task":"Rest","channel":"C3","value":2.616,"jitter":-0.026},
{"task":"Rest","channel":"C3","value":2.576,"jitter":-0.029},
{"task":"Rest","channel":"C3","value":2.581,"jitter":-0.008},
{"task":"Rest","channel":"C3","value":2.471,"jitter":-0.066},
{"task":"Rest","channel":"C4","value":3.588,"jitter":-0.008},
{"task":"Rest","channel":"C4","value":3.544,"jitter":0.013},
{"task":"Rest","channel":"C4","value":3.507,"jitter":-0.014},
{"task":"Rest","channel":"C4","value":3.458,"jitter":-0.044},
{"task":"Rest","channel":"C4","value":3.461,"jitter":-0.005},
{"task":"Rest","channel":"C4","value":3.435,"jitter":-0.019},
{"task":"Rest","channel":"C4","value":3.439,"jitter":0.009},
{"task":"Rest","channel":"C4","value":3.431,"jitter":0.043},
{"task":"Rest","channel":"C4","value":3.418,"jitter":0.009},
{"task":"Rest","channel":"C4","value":3.405,"jitter":-0.007},
{"task":"Rest","channel":"C4","value":3.395,"jitter":0.001},
{"task":"Rest","channel":"C4","value":3.385,"jitter":0.018},
{"task":"Rest","channel":"C4","value":3.398,"jitter":0.046},
{"task":"Rest","channel":"C4","value":3.371,"jitter":0.079},
{"task":"Rest","channel":"C4","value":3.371,"jitter":-0.024},
{"task":"Rest","channel":"C4","value":3.355,"jitter":-0.028},
{"task":"Rest","channel":"C4","value":3.359,"jitter":-0.012},
{"task":"Rest","channel":"C4","value":3.342,"jitter":-0.046},
{"task":"Rest","channel":"C4","value":3.333,"jitter":-0.055},
{"task":"Rest","channel":"C4","value":3.336,"jitter":-0.036},
{"task":"Rest","channel":"C4","value":3.344,"jitter":-0.012},
{"task":"Rest","channel":"C4","value":3.341,"jitter":0.038},
{"task":"Rest","channel":"C4","value":3.321,"jitter":0.041},
{"task":"Rest","channel":"C4","value":3.324,"jitter":0.022},
{"task":"Rest","channel":"C4","value":3.316,"jitter":-0.041},
{"task":"Rest","channel":"C4","value":3.319,"jitter":-0.020},
{"task":"Rest","channel":"C4","value":3.320,"jitter":-0.007},
{"task":"Rest","channel":"C4","value":3.302,"jitter":-0.031},
{"task":"Rest","channel":"C4","value":3.306,"jitter":-0.017},
{"task":"Rest","channel":"C4","value":3.289,"jitter":-0.060},
{"task":"Rest","channel":"C4","value":3.290,"jitter":-0.002},
{"task":"Rest","channel":"C4","value":3.289,"jitter":0.048},
{"task":"Rest","channel":"C4","value":3.284,"jitter":0.033},
{"task":"Rest","channel":"C4","value":3.274,"jitter":-0.025},
{"task":"Rest","channel":"C4","value":3.271,"jitter":-0.023},
{"task":"Rest","channel":"C4","value":3.269,"jitter":0.019},
{"task":"Rest","channel":"C4","value":3.263,"jitter":0.012},
{"task":"Rest","channel":"C4","value":3.257,"jitter":-0.049},
{"task":"Rest","channel":"C4","value":3.229,"jitter":0.024},
{"task":"Rest","channel":"C4","value":3.227,"jitter":0.014},
{"task":"Rest","channel":"C4","value":3.221,"jitter":-0.026},
{"task":"Rest","channel":"C4","value":3.222,"jitter":-0.008},
{"task":"Rest","channel":"C4","value":3.206,"jitter":0.026},
{"task":"Rest","channel":"C4","value":3.208,"jitter":0.043},
{"task":"Rest","channel":"C4","value":3.197,"jitter":0.047},
{"task":"Rest","channel":"C4","value":3.172,"jitter":-0.062},
{"task":"Rest","channel":"C4","value":3.179,"jitter":-0.021},
{"task":"Rest","channel":"C4","value":3.183,"jitter":-0.008},
{"task":"Rest","channel":"C4","value":3.155,"jitter":-0.065},
{"task":"Rest","channel":"C4","value":3.158,"jitter":-0.025},
{"task":"Rest","channel":"C4","value":3.149,"jitter":-0.024},
{"task":"Rest","channel":"C4","value":3.161,"jitter":0.056},
{"task":"Rest","channel":"C4","value":3.166,"jitter":0.072},
{"task":"Rest","channel":"C4","value":3.140,"jitter":-0.070},
{"task":"Rest","channel":"C4","value":3.134,"jitter":-0.033},
{"task":"Rest","channel":"C4","value":3.149,"jitter":-0.009},
{"task":"Rest","channel":"C4","value":3.137,"jitter":0.003},
{"task":"Rest","channel":"C4","value":3.139,"jitter":0.039},
{"task":"Rest","channel":"C4","value":3.135,"jitter":0.061},
{"task":"Rest","channel":"C4","value":3.137,"jitter":0.099},
{"task":"Rest","channel":"C4","value":3.128,"jitter":-0.034},
{"task":"Rest","channel":"C4","value":3.110,"jitter":-0.016},
{"task":"Rest","channel":"C4","value":3.093,"jitter":-0.028},
{"task":"Rest","channel":"C4","value":3.080,"jitter":-0.019},
{"task":"Rest","channel":"C4","value":3.079,"jitter":0.011},
{"task":"Rest","channel":"C4","value":3.071,"jitter":0.026},
{"task":"Rest","channel":"C4","value":3.073,"jitter":0.034},
{"task":"Rest","channel":"C4","value":3.065,"jitter":0.031},
{"task":"Rest","channel":"C4","value":3.045,"jitter":-0.071},
{"task":"Rest","channel":"C4","value":3.044,"jitter":-0.031},
{"task":"Rest","channel":"C4","value":3.041,"jitter":0.034},
{"task":"Rest","channel":"C4","value":3.022,"jitter":0.074},
{"task":"Rest","channel":"C4","value":2.999,"jitter":-0.068},
{"task":"Rest","channel":"C4","value":2.985,"jitter":0.039},
{"task":"Rest","channel":"C4","value":2.968,"jitter":0.007},
{"task":"Rest","channel":"C4","value":2.950,"jitter":-0.028},
{"task":"Rest","channel":"C4","value":2.934,"jitter":-0.038},
{"task":"Rest","channel":"C4","value":2.937,"jitter":-0.011},
{"task":"Rest","channel":"C4","value":2.946,"jitter":0.002},
{"task":"Rest","channel":"C4","value":2.886,"jitter":-0.021},
{"task":"Rest","channel":"C4","value":2.830,"jitter":0.006},
{"task":"Rest","channel":"Cz","value":3.431,"jitter":-0.003},
{"task":"Rest","channel":"Cz","value":3.412,"jitter":0.016},
{"task":"Rest","channel":"Cz","value":3.361,"jitter":0.034},
{"task":"Rest","channel":"Cz","value":3.354,"jitter":0.069},
{"task":"Rest","channel":"Cz","value":3.347,"jitter":-0.016},
{"task":"Rest","channel":"Cz","value":3.325,"jitter":-0.055},
{"task":"Rest","channel":"Cz","value":3.321,"jitter":-0.008},
{"task":"Rest","channel":"Cz","value":3.278,"jitter":0.004},
{"task":"Rest","channel":"Cz","value":3.270,"jitter":0.052},
{"task":"Rest","channel":"Cz","value":3.257,"jitter":-0.003},
{"task":"Rest","channel":"Cz","value":3.240,"jitter":-0.067},
{"task":"Rest","channel":"Cz","value":3.226,"jitter":-0.079},
{"task":"Rest","channel":"Cz","value":3.245,"jitter":0.008},
{"task":"Rest","channel":"Cz","value":3.225,"jitter":-0.016},
{"task":"Rest","channel":"Cz","value":3.232,"jitter":0.009},
{"task":"Rest","channel":"Cz","value":3.230,"jitter":0.036},
{"task":"Rest","channel":"Cz","value":3.214,"jitter":-0.007},
{"task":"Rest","channel":"Cz","value":3.214,"jitter":0.006},
{"task":"Rest","channel":"Cz","value":3.204,"jitter":0.027},
{"task":"Rest","channel":"Cz","value":3.199,"jitter":0.017},
{"task":"Rest","channel":"Cz","value":3.203,"jitter":-0.009},
{"task":"Rest","channel":"Cz","value":3.171,"jitter":-0.025},
{"task":"Rest","channel":"Cz","value":3.166,"jitter":-0.011},
{"task":"Rest","channel":"Cz","value":3.171,"jitter":0.005},
{"task":"Rest","channel":"Cz","value":3.173,"jitter":0.017},
{"task":"Rest","channel":"Cz","value":3.152,"jitter":-0.024},
{"task":"Rest","channel":"Cz","value":3.151,"jitter":-0.015},
{"task":"Rest","channel":"Cz","value":3.147,"jitter":0.021},
{"task":"Rest","channel":"Cz","value":3.135,"jitter":0.035},
{"task":"Rest","channel":"Cz","value":3.125,"jitter":0.040},
{"task":"Rest","channel":"Cz","value":3.116,"jitter":-0.039},
{"task":"Rest","channel":"Cz","value":3.115,"jitter":-0.011},
{"task":"Rest","channel":"Cz","value":3.122,"jitter":0.009},
{"task":"Rest","channel":"Cz","value":3.102,"jitter":0.035},
{"task":"Rest","channel":"Cz","value":3.109,"jitter":0.017},
{"task":"Rest","channel":"Cz","value":3.091,"jitter":-0.024},
{"task":"Rest","channel":"Cz","value":3.085,"jitter":-0.042},
{"task":"Rest","channel":"Cz","value":3.071,"jitter":-0.041},
{"task":"Rest","channel":"Cz","value":3.063,"jitter":-0.025},
{"task":"Rest","channel":"Cz","value":3.060,"jitter":-0.083},
{"task":"Rest","channel":"Cz","value":3.058,"jitter":-0.054},
{"task":"Rest","channel":"Cz","value":3.047,"jitter":-0.037},
{"task":"Rest","channel":"Cz","value":3.060,"jitter":-0.007},
{"task":"Rest","channel":"Cz","value":3.060,"jitter":0.016},
{"task":"Rest","channel":"Cz","value":3.054,"jitter":0.036},
{"task":"Rest","channel":"Cz","value":3.046,"jitter":0.031},
{"task":"Rest","channel":"Cz","value":3.031,"jitter":-0.003},
{"task":"Rest","channel":"Cz","value":3.031,"jitter":0.011},
{"task":"Rest","channel":"Cz","value":3.014,"jitter":-0.052},
{"task":"Rest","channel":"Cz","value":3.008,"jitter":-0.017},
{"task":"Rest","channel":"Cz","value":2.998,"jitter":-0.038},
{"task":"Rest","channel":"Cz","value":3.013,"jitter":-0.007},
{"task":"Rest","channel":"Cz","value":3.012,"jitter":0.016},
{"task":"Rest","channel":"Cz","value":3.009,"jitter":0.034},
{"task":"Rest","channel":"Cz","value":3.004,"jitter":0.093},
{"task":"Rest","channel":"Cz","value":2.987,"jitter":0.047},
{"task":"Rest","channel":"Cz","value":2.974,"jitter":0.030},
{"task":"Rest","channel":"Cz","value":2.967,"jitter":0.027},
{"task":"Rest","channel":"Cz","value":2.963,"jitter":-0.029},
{"task":"Rest","channel":"Cz","value":2.959,"jitter":-0.017},
{"task":"Rest","channel":"Cz","value":2.949,"jitter":0.006},
{"task":"Rest","channel":"Cz","value":2.951,"jitter":0.053},
{"task":"Rest","channel":"Cz","value":2.942,"jitter":0.049},
{"task":"Rest","channel":"Cz","value":2.928,"jitter":0.033},
{"task":"Rest","channel":"Cz","value":2.929,"jitter":0.038},
{"task":"Rest","channel":"Cz","value":2.920,"jitter":0.047},
{"task":"Rest","channel":"Cz","value":2.913,"jitter":-0.051},
{"task":"Rest","channel":"Cz","value":2.889,"jitter":-0.015},
{"task":"Rest","channel":"Cz","value":2.875,"jitter":-0.039},
{"task":"Rest","channel":"Cz","value":2.864,"jitter":0.003},
{"task":"Rest","channel":"Cz","value":2.869,"jitter":0.014},
{"task":"Rest","channel":"Cz","value":2.848,"jitter":-0.017},
{"task":"Rest","channel":"Cz","value":2.852,"jitter":0.048},
{"task":"Rest","channel":"Cz","value":2.802,"jitter":0.036},
{"task":"Rest","channel":"Cz","value":2.808,"jitter":0.049}
],
"summary": [
{"task":"左腳","channel":"C3","mean":2.808,"lo":2.675,"hi":2.938},
{"task":"左腳","channel":"C4","mean":3.175,"lo":3.020,"hi":3.328},
{"task":"左腳","channel":"Cz","mean":3.088,"lo":2.951,"hi":3.223},
{"task":"右腳","channel":"C3","mean":2.817,"lo":2.667,"hi":2.967},
{"task":"右腳","channel":"C4","mean":3.181,"lo":3.023,"hi":3.338},
{"task":"右腳","channel":"Cz","mean":3.104,"lo":2.959,"hi":3.250},
{"task":"Rest","channel":"C3","mean":2.863,"lo":2.708,"hi":3.018},
{"task":"Rest","channel":"C4","mean":3.245,"lo":3.080,"hi":3.412},
{"task":"Rest","channel":"Cz","mean":3.093,"lo":2.946,"hi":3.240}
]
},
"encoding": {
  "x": {"field": "task", "type": "nominal", "sort": ["左腳", "右腳", "Rest"],
        "scale": {"type": "band", "range": [-33.45, 1875.45], "paddingInner": 0, "paddingOuter": 0},
        "axis": {"title": null, "domain": false, "grid": false, "labelAngle": 0, "labelFontSize": 23, "labelPadding": 6, "tickSize": 9}},
  "xOffset": {"field": "pos", "type": "quantitative", "scale": {"domain": [-0.5, 0.5], "range": [0, 636.3]}},
  "color": {"field": "channel", "type": "nominal", "scale": {"domain": ["C3", "C4", "Cz"], "range": ["#2e7d76", "#cd4a6f", "#3b78d9"]}}
},
"layer": [
  {
    "data": {"name": "points"},
    "transform": [{"calculate": "(datum.channel === 'C3' ? -0.22 : datum.channel === 'Cz' ? 0.22 : 0) + datum.jitter", "as": "pos"}],
    "mark": {"type": "circle", "size": 155, "opacity": 0.75, "stroke": "white", "strokeWidth": 0.8, "clip": true},
    "encoding": {
      "y": {"field": "value", "type": "quantitative",
            "scale": {"domain": [2.4698, 3.5886], "nice": false, "zero": false},
            "axis": {"title": "Gaussian differential entropy", "values": [2.6, 2.8, 3.0, 3.2, 3.4], "format": ".1f",
                     "grid": true, "gridColor": "#dbe2ec", "gridWidth": 1.5, "domain": false,
                     "tickSize": 9, "labelFontSize": 20, "labelPadding": 10,
                     "titleFontSize": 21, "titleFontWeight": "normal", "titlePadding": 19}},
      "color": {"field": "channel", "type": "nominal",
                "legend": {"title": "Channel", "orient": "none", "legendX": 1719, "legendY": 20,
                           "titleFontSize": 24, "titleFontWeight": "normal", "titleColor": "#1a1a1a",
                           "labelFontSize": 24, "labelColor": "#1a1a1a",
                           "symbolSize": 160, "symbolOffset": 13, "labelOffset": 26,
                           "rowPadding": 14, "titlePadding": 15, "symbolStrokeWidth": 0}}
    }
  },
  {
    "data": {"name": "summary"},
    "transform": [{"calculate": "datum.channel === 'C3' ? -0.22 : datum.channel === 'Cz' ? 0.22 : 0", "as": "pos"}],
    "layer": [
      {"mark": {"type": "rule", "strokeWidth": 3.5},
       "encoding": {"y": {"field": "lo", "type": "quantitative"}, "y2": {"field": "hi"}}},
      {"mark": {"type": "tick", "size": 24, "thickness": 3},
       "encoding": {"y": {"field": "lo", "type": "quantitative"}}},
      {"mark": {"type": "tick", "size": 24, "thickness": 3},
       "encoding": {"y": {"field": "hi", "type": "quantitative"}}},
      {"mark": {"type": "circle", "size": 360, "opacity": 1, "stroke": "black", "strokeWidth": 2.5},
       "encoding": {"y": {"field": "mean", "type": "quantitative"}}}
    ]
  }
]
}
